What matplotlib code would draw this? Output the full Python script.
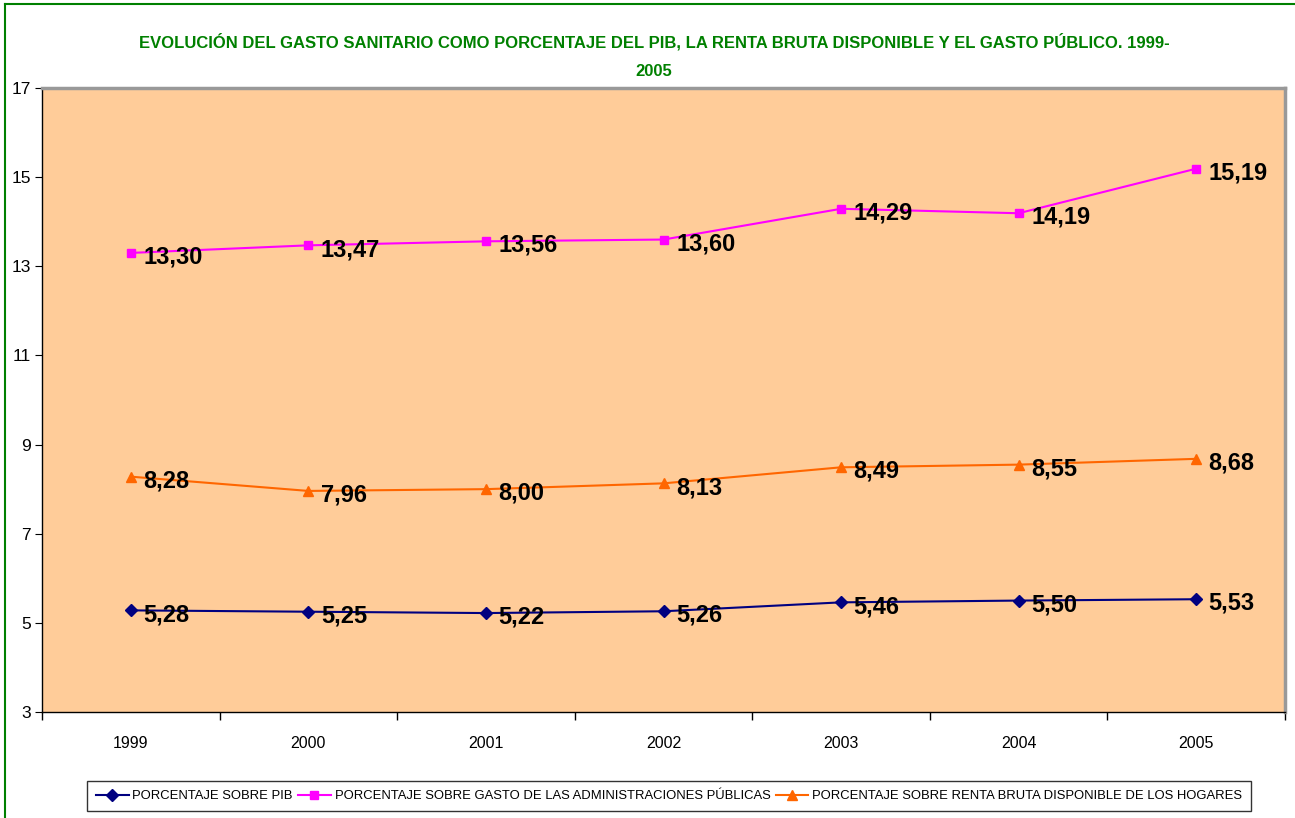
import matplotlib
matplotlib.use("Agg")
import matplotlib.pyplot as plt
from matplotlib.lines import Line2D

years = ["1999", "2000", "2001", "2002", "2003", "2004", "2005"]
pib = [5.28, 5.25, 5.22, 5.26, 5.46, 5.50, 5.53]
admin = [13.30, 13.47, 13.56, 13.60, 14.29, 14.19, 15.19]
renta = [8.28, 7.96, 8.00, 8.13, 8.49, 8.55, 8.68]
series_names = ["PORCENTAJE SOBRE PIB",
                "PORCENTAJE SOBRE GASTO DE LAS ADMINISTRACIONES PÚBLICAS",
                "PORCENTAJE SOBRE RENTA BRUTA DISPONIBLE DE LOS HOGARES"]
title = ("EVOLUCIÓN DEL GASTO SANITARIO COMO PORCENTAJE DEL PIB, LA RENTA BRUTA "
         "DISPONIBLE Y EL GASTO PÚBLICO. 1999-\n2005")

plt.rcParams['font.family'] = ['Liberation Sans', 'DejaVu Sans']

fig = plt.figure(figsize=(12.95, 8.18), dpi=100)
ax = fig.add_axes([42/1295, 1-712/818, (1285-42)/1295, (712-88)/818])
ax.set_facecolor('#FFCC99')

x = list(range(len(years)))
styles = [(pib, '#000080', 'D', 6), (admin, '#FF00FF', 's', 6), (renta, '#FF6600', '^', 7)]
handles = []
for (vals, col, mk, ms), name in zip(styles, series_names):
    h, = ax.plot(x, vals, color=col, marker=mk, markersize=ms, linewidth=1.5,
                 label=name, markeredgecolor=col, markerfacecolor=col)
    handles.append(h)
    for xi, v in zip(x, vals):
        ax.annotate(f"{v:.2f}".replace('.', ','), (xi, v), xytext=(9, -3),
                    textcoords='offset points', ha='left', va='center',
                    fontsize=17, fontweight='bold', color='black')

ax.set_xlim(-0.5, len(years) - 0.5)
ax.set_ylim(3, 17)
ax.set_yticks(range(3, 18, 2))
ax.set_xticks(x)
ax.set_xticklabels(years)
ax.set_xticks([i - 0.5 for i in range(len(years) + 1)], minor=True)
ax.tick_params(axis='x', which='major', length=0, pad=17, labelsize=11.5)
ax.tick_params(axis='x', which='minor', length=6, direction='out', width=1)
ax.tick_params(axis='y', length=5, direction='out', labelsize=12.5, pad=3)

for s in ['left', 'bottom']:
    ax.spines[s].set_color('black')
    ax.spines[s].set_linewidth(1)
for s in ['top', 'right']:
    ax.spines[s].set_color('#999999')
    ax.spines[s].set_linewidth(2.5)

fig.text(654/1295, 1-56/818, title, ha='center', va='center', color='#008000',
         fontsize=12, fontweight='bold', linespacing=2.1)

leg = fig.legend(handles=handles, loc='center', bbox_to_anchor=(669/1295, 1-796/818),
                 ncol=3, fontsize=9.4, frameon=True, fancybox=False, edgecolor='black',
                 handlelength=2.5, handletextpad=0.3, columnspacing=0.4, borderpad=0.7)
leg.get_frame().set_linewidth(1)

fig.add_artist(Line2D([5/1295, 5/1295], [0, 1-4/818], color='#008000', linewidth=1.5,
                      transform=fig.transFigure))
fig.add_artist(Line2D([5/1295, 1], [1-4/818, 1-4/818], color='#008000', linewidth=1.5,
                      transform=fig.transFigure))

fig.savefig('out.png', dpi=100)
